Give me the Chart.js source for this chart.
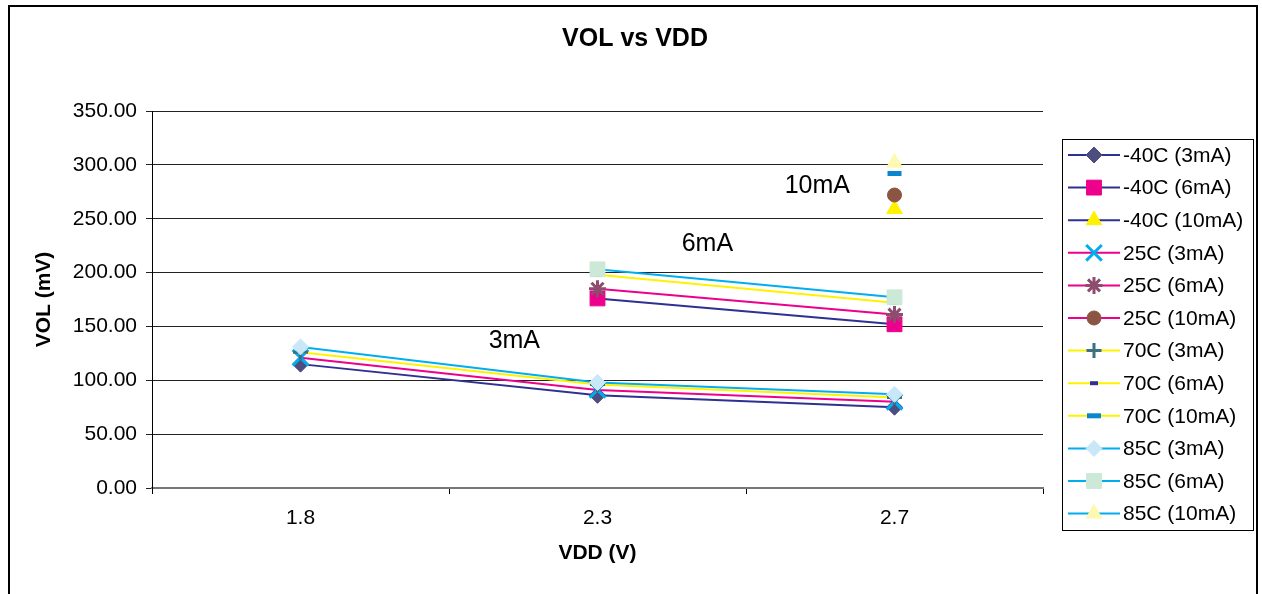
<!DOCTYPE html>
<html>
<head>
<meta charset="utf-8">
<title>VOL vs VDD</title>
<script src="https://cdn.jsdelivr.net/npm/chart.js@4.4.1/dist/chart.umd.min.js"></script>
<style>
    html, body { margin: 0; padding: 0; background: #fff; }
    #wrap { position: relative; width: 1262px; height: 594px; }
</style>
</head>
<body>
<div id="wrap"><canvas id="volChart"></canvas></div>
<script>
// VDD categories
const vddLabels = ['1.8', '2.3', '2.7'];

// VOL (mV) per temperature / load current
const vol40C3mA = [115, 86, 75];
const vol40C6mA = [null, 176, 152];
const vol40C10mA = [null, null, 259];
const vol25C3mA = [121, 91, 80];
const vol25C6mA = [null, 185, 161];
const vol25C10mA = [null, null, 272];
const vol70C3mA = [126, 96, 84];
const vol70C6mA = [null, 198, 172];
const vol70C10mA = [null, null, 292];
const vol85C3mA = [131, 98, 87];
const vol85C6mA = [null, 203, 177];
const vol85C10mA = [null, null, 302];

const seriesNames = [
    '-40C (3mA)', '-40C (6mA)', '-40C (10mA)',
    '25C (3mA)', '25C (6mA)', '25C (10mA)',
    '70C (3mA)', '70C (6mA)', '70C (10mA)',
    '85C (3mA)', '85C (6mA)', '85C (10mA)'
];
const seriesValues = [
    vol40C3mA, vol40C6mA, vol40C10mA,
    vol25C3mA, vol25C6mA, vol25C10mA,
    vol70C3mA, vol70C6mA, vol70C10mA,
    vol85C3mA, vol85C6mA, vol85C10mA
];

// load current labels, placed in data units (category index, mV)
const noteTexts = ['3mA', '6mA', '10mA'];
const noteAtVdd = [0.72, 1.37, 1.74];
const noteAtVol = [136.5, 226.5, 280.5];

const FONT = 'Arial, "Liberation Sans", sans-serif';

// line colour per temperature, marker per series
const lineColors = ['#2E3192', '#EC008C', '#FFF200', '#00AEEF'];
const markers = [
    { style: 'rectRot', radius: 8, fill: '#4D4D7F', stroke: '#4D4D7F', width: 1 },
    { style: 'rect', radius: 10.5, fill: '#EC008C', stroke: '#EC008C', width: 1 },
    { style: 'triangle', radius: 9, fill: '#FFF200', stroke: '#FFF200', width: 1 },
    { style: 'crossRot', radius: 11, fill: '#00AEEF', stroke: '#00AEEF', width: 3 },
    { style: 'star', radius: 8.5, fill: '#8E4C6E', stroke: '#8E4C6E', width: 3 },
    { style: 'circle', radius: 7, fill: '#8C5443', stroke: '#8C5443', width: 1 },
    { style: 'cross', radius: 7.5, fill: '#3D7080', stroke: '#3D7080', width: 3 },
    { style: 'line', radius: 4, fill: '#2E3192', stroke: '#2E3192', width: 4 },
    { style: 'line', radius: 7, fill: '#0A86CC', stroke: '#0A86CC', width: 5 },
    { style: 'rectRot', radius: 8, fill: '#C8E8F8', stroke: '#C8E8F8', width: 1 },
    { style: 'rect', radius: 10.5, fill: '#CCE8D6', stroke: '#CCE8D6', width: 1 },
    { style: 'triangle', radius: 9, fill: '#FFF8B0', stroke: '#FFF8B0', width: 1 }
];

const datasets = seriesValues.map((values, i) => ({
    label: seriesNames[i],
    data: values,
    borderColor: lineColors[Math.floor(i / 3)],
    backgroundColor: markers[i].fill,
    borderWidth: 2,
    tension: 0,
    fill: false,
    pointStyle: markers[i].style,
    pointRadius: markers[i].radius,
    pointBackgroundColor: markers[i].fill,
    pointBorderColor: markers[i].stroke,
    pointBorderWidth: markers[i].width,
    order: seriesNames.length - i
}));

// white background, outer frame and title
const framePlugin = {
    id: 'framePlugin',
    beforeDraw(chart) {
        const ctx = chart.ctx;
        ctx.save();
        ctx.fillStyle = '#fff';
        ctx.fillRect(0, 0, chart.width, chart.height);
        ctx.strokeStyle = '#000';
        ctx.lineWidth = 2;
        ctx.strokeRect(9, 6, 1248, 640);
        ctx.fillStyle = '#000';
        ctx.font = 'bold 25px ' + FONT;
        ctx.textAlign = 'center';
        ctx.textBaseline = 'middle';
        ctx.fillText('VOL vs VDD', 635, 39);
        ctx.restore();
    }
};

// "3mA" / "6mA" / "10mA" notes
const notesPlugin = {
    id: 'notesPlugin',
    afterDatasetsDraw(chart) {
        const { ctx, scales: { x, y } } = chart;
        ctx.save();
        ctx.fillStyle = '#000';
        ctx.font = '25px ' + FONT;
        ctx.textAlign = 'center';
        ctx.textBaseline = 'middle';
        noteTexts.forEach((t, i) => {
            ctx.fillText(t, x.getPixelForValue(noteAtVdd[i]), y.getPixelForValue(noteAtVol[i]));
        });
        ctx.restore();
    }
};

// Excel-style legend: line sample with marker
const legendPlugin = {
    id: 'legendPlugin',
    afterDraw(chart) {
        const ctx = chart.ctx;
        const left = 1062, top = 139, right = 1253, bottom = 530;
        ctx.save();
        ctx.strokeStyle = '#000';
        ctx.lineWidth = 1;
        ctx.strokeRect(left + 0.5, top + 0.5, right - left, bottom - top);
        chart.data.datasets.forEach((ds, i) => {
            const cy = 155 + i * 32.6;
            ctx.strokeStyle = ds.borderColor;
            ctx.lineWidth = 2;
            ctx.beginPath();
            ctx.moveTo(1068, cy);
            ctx.lineTo(1120, cy);
            ctx.stroke();
            ctx.fillStyle = ds.pointBackgroundColor;
            ctx.strokeStyle = ds.pointBorderColor;
            ctx.lineWidth = ds.pointBorderWidth;
            Chart.helpers.drawPoint(ctx, {
                pointStyle: ds.pointStyle,
                radius: ds.pointRadius,
                borderWidth: ds.pointBorderWidth,
                rotation: 0
            }, 1094, cy);
            ctx.fillStyle = '#000';
            ctx.font = '21px ' + FONT;
            ctx.textAlign = 'left';
            ctx.textBaseline = 'middle';
            ctx.fillText(ds.label, 1123, cy + 1);
        });
        ctx.restore();
    }
};

new Chart(document.getElementById('volChart'), {
    type: 'line',
    data: { labels: vddLabels, datasets },
    options: {
        responsive: true,
        maintainAspectRatio: false,
        animation: false,
        layout: { padding: { left: 10, right: 219, top: 111, bottom: 26 } },
        plugins: {
            legend: { display: false },
            title: { display: false },
            tooltip: { enabled: false }
        },
        scales: {
            x: {
                type: 'category',
                offset: true,
                afterFit: s => { s.height = 80; },
                grid: {
                    offset: true,
                    drawOnChartArea: false,
                    drawTicks: true,
                    tickLength: 6,
                    color: '#000'
                },
                border: { color: '#777', width: 2 },
                ticks: { color: '#000', font: { size: 21 }, padding: 12 },
                title: {
                    display: true,
                    text: 'VDD (V)',
                    color: '#000',
                    font: { size: 21, weight: 'bold' },
                    padding: { top: 0, bottom: 2 }
                }
            },
            y: {
                min: 0,
                max: 350,
                afterFit: s => { s.width = 142; },
                grid: { color: '#222', tickLength: 6, drawTicks: true },
                border: { color: '#000', width: 1 },
                ticks: {
                    stepSize: 50,
                    color: '#000',
                    font: { size: 21 },
                    padding: 9,
                    callback: v => v.toFixed(2)
                },
                title: {
                    display: true,
                    text: 'VOL (mV)',
                    color: '#000',
                    font: { size: 21, weight: 'bold' },
                    padding: { top: 22, bottom: 0 }
                }
            }
        }
    },
    plugins: [framePlugin, notesPlugin, legendPlugin]
});
</script>
</body>
</html>
